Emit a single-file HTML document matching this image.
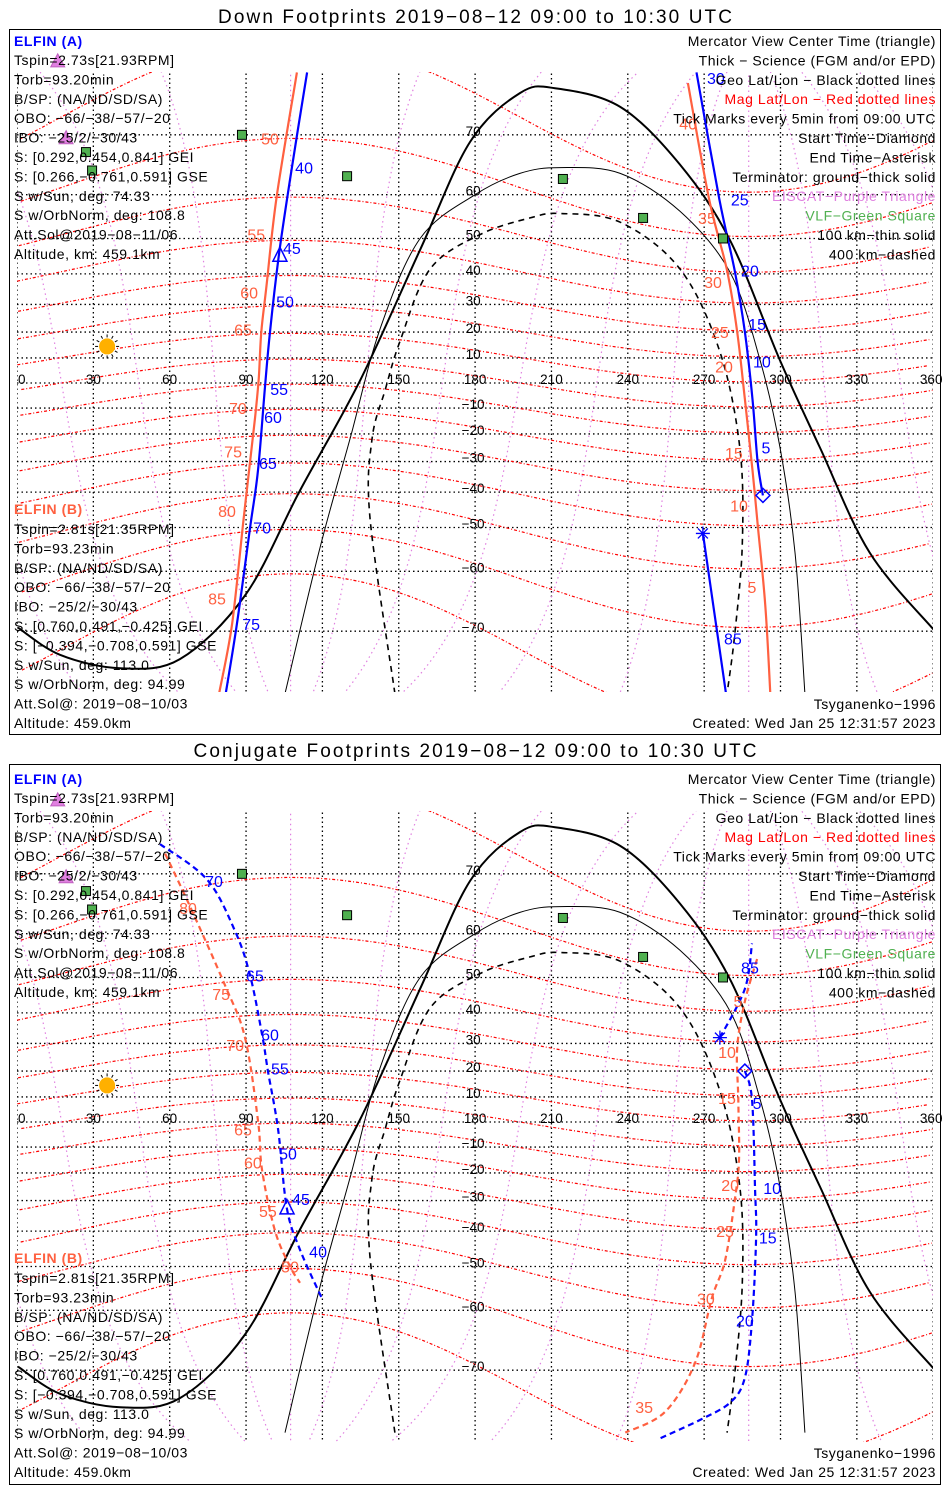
<!DOCTYPE html>
<html><head><meta charset="utf-8"><style>
html,body{margin:0;padding:0;background:#fff;}
svg{display:block;font-family:"Liberation Sans",sans-serif;}
.t{font-size:14px;letter-spacing:0.55px;}
.tk{font-size:16px;}
.ax{font-size:13.5px;}
</style></head><body>
<svg id="chart" width="950" height="1500" viewBox="0 0 950 1500" xmlns="http://www.w3.org/2000/svg">
<defs>
<clipPath id="clipTop"><rect x="17" y="72" width="916" height="620"/></clipPath>
<clipPath id="clipBot"><rect x="17" y="811" width="916" height="631"/></clipPath>
</defs>
<rect x="9.5" y="29.5" width="931" height="705" fill="none" stroke="#000"/>
<rect x="9.5" y="764.5" width="931" height="720" fill="none" stroke="#000"/>
<text x="475" y="23" font-size="19" text-anchor="middle" textLength="514">Down Footprints 2019−08−12 09:00 to 10:30 UTC</text>
<text x="475" y="757" font-size="19" text-anchor="middle" textLength="563">Conjugate Footprints 2019−08−12 09:00 to 10:30 UTC</text>
<g id="panels"></g>
</svg>
<script>
// ---------- data ----------
const lonTicks=[0,30,60,90,120,150,180,210,240,270,300,330,360];
const latTicks=[70,60,50,40,30,20,10,0,-10,-20,-30,-40,-50,-60,-70];
const magLats=[-70,-60,-50,-40,-30,-20,-10,0,10,20,30,40,50,60,70];
const magLons=[0,30,60,90,120,150,180,210,240,270,300,330];
const vlfLon=[88.4,27.1,29.5,129.7,214.5,246,277.4];
const vlfLat=[70,67.5,64.5,63.5,63,55,50];
const eiscatLon=[19.3,16];
const eiscatLat=[69.6,78];
const sunLon=35.4, sunLat=14.5;
// terminator (ground, thick)
const termLon=[0.4,16.9,40.5,64,89.6,111.2,134.8,158.4,178,197.6,211.4,237,260.5,280.2,299.8,315.5,335,360.7];
const termLat=[-69.5,-73,-74.5,-73.5,-64.5,-39.5,1,47,69,75,75.5,73.5,65.5,49.5,9,-25,-56,-70];
// 100 km (thin)
const t100Lon=[105.3,119,130.8,142.6,158.4,180,197.6,213.4,237,260.5,280.2,292,299.8,305.7,309.6];
const t100Lat=[-77,-55,-22,21,50,60,64,65,64,56.5,40.5,9,-25,-56,-77];
// 400 km (dashed)
const t400Lon=[148.5,138.7,139.5,144.6,150.5,162.3,182,201.6,213.4,237,260.5,276,284,285,282,279];
const t400Lat=[-77,-47.5,-22,-3,16.5,41.5,51,55,56,54,41.5,13,-25,-54,-70.5,-77];
// Down footprints tracks
const downA1Lon=[114,108,103,99.4,97.4,94.7,91.6,86.4,82];
const downA1Lat=[77,65,46,20,-2,-33,-50,-69,-77];
const downA2Lon=[267,276,282,286,289,291,293.1];
const downA2Lat=[77,59,41,20,-6.5,-30,-41];
const downA3Lon=[269.5,278.6];
const downA3Lat=[-51.5,-77];
const downB1Lon=[110,102,98,96,95,93.5,89,84.5,79.4];
const downB1Lat=[77,59.5,36,20,2,-14,-48,-69,-77];
const downB2Lon=[263.6,272,279,283,286,289,291,294,296];
const downB2Lat=[76,59,41,20,-6.5,-33,-49,-66,-77];
const downALabels=["30","25","20","15","10","5","40","45","50","55","60","65","70","75","85"];
const downALabLon=[274.6,284,288,290.8,292.7,294.3,112.8,108,105.3,103,100.6,98.6,96.3,92,281.3];
const downALabLat=[76.5,59,41,23,8.5,-25,65,47.5,31,-2.5,-13.5,-30.5,-50,-69,-71];
const downBLabels=["40","35","30","25","20","15","10","5","50","55","60","65","70","75","80","85"];
const downBLabLon=[263.7,271.1,273.5,276.2,277.8,281.7,283.7,288.8,99.4,94,91.2,88.8,86.8,84.9,82.5,78.6];
const downBLabLat=[71.5,55,37.5,20,6.5,-27,-44,-63,69.5,51,34,21,-10,-26.5,-45.5,-65];
const downTri=[103.3,45.5], downDia=[293.1,-41], downAst=[269.5,-51.5];
// Conjugate tracks
const conjA1Lon=[56.2,74.7,85.7,91.6,96.3,98.6,102.6,106,111.2,119.8];
const conjA1Lat=[73.7,69.2,60.5,50.5,33,20,-3,-32.5,-45.5,-57.5];
const conjA2Lon=[276.2,286,288.8];
const conjA2Lat=[32,47,58];
const conjA3Lon=[286,288.8,290,290.4,288.8,286,280.2,268.4,252.7];
const conjA3Lat=[20,9,-25.5,-42,-62,-71,-74,-75.8,-77.5];
const conjB1Lon=[58.2,68,81.7,89.6,94.7,96.3,101.4,107.3,111.2];
const conjB1Lat=[72.6,65,48,32,0.5,-19,-40,-50,-54];
const conjB2Lon=[290.8,286,283,283.4,283.7,282,278.2,273,266.4,254.6,239];
const conjB2Lat=[54.5,43.5,28.5,9,-15,-30,-48.5,-57.5,-69,-75,-77];
const conjALabels=["70","65","60","55","50","45","40","85","5","10","15","20"];
const conjALabLon=[77.4,93.5,99.4,103.3,106.5,111.6,118.3,288,290.8,296.7,295,286];
const conjALabLat=[69,50.5,33,21,-12.5,-29.5,-46,52.5,7.5,-25.5,-42,-62];
const conjBLabels=["80","75","70","65","60","55","50","5","10","15","20","25","30","35"];
const conjBLabLon=[67.2,80.2,85.7,88.8,92.7,98.6,107.3,283.3,279,279,280.2,278.2,270.7,246.4];
const conjBLabLat=[64.8,45.5,29.5,-3,-16,-33.5,-50,43.5,27,9.5,-24.5,-40,-57.5,-74.5];
const conjTri=[106.1,-32.5], conjDia=[286,20], conjAst=[276.2,32];

const legA=["Tspin=2.73s[21.93RPM]","Torb=93.20min","B/SP: (NA/ND/SD/SA)","OBO: −66/−38/−57/−20","IBO: −25/2/−30/43","S: [0.292,0.454,0.841] GEI","S: [0.266,−0.761,0.591] GSE","S w/Sun, deg: 74.33","S w/OrbNorm, deg: 108.8","Att.Sol@2019−08−11/06","Altitude, km: 459.1km"];
const legB=["Tspin=2.81s[21.35RPM]","Torb=93.23min","B/SP: (NA/ND/SD/SA)","OBO: −66/−38/−57/−20","IBO: −25/2/−30/43","S: [0.760,0.491,−0.425] GEI","S: [−0.394,−0.708,0.591] GSE","S w/Sun, deg: 113.0","S w/OrbNorm, deg: 94.99","Att.Sol@: 2019−08−10/03","Altitude: 459.0km"];
const legR=["Mercator View Center Time (triangle)","Thick − Science (FGM and/or EPD)","Geo Lat/Lon − Black dotted lines","Mag Lat/Lon − Red dotted lines","Tick Marks every 5min from 09:00 UTC","Start Time−Diamond","End Time−Asterisk","Terminator: ground−thick solid","EISCAT−Purple Triangle","VLF−Green Square","100 km−thin solid","400 km−dashed"];
const legRColors=["#000","#000","#000","#ff0000","#000","#000","#000","#000","#e080e0","#50b050","#000","#000"];

// ---------- drawing ----------
const NS="http://www.w3.org/2000/svg";
const BLUE="#0000ff", ORANGE="#ff6040";
const root=document.getElementById("panels");
function mk(tag,attrs,parent){const e=document.createElementNS(NS,tag);for(const k in attrs)e.setAttribute(k,attrs[k]);(parent||root).appendChild(e);return e;}
function X(lon){return 17+lon*2.545;}
function mercY(lat,off){const r=Math.max(-85,Math.min(85,lat))*Math.PI/180;return off+383-143*Math.log(Math.tan(Math.PI/4+r/2));}
function pathFrom(lons,lats,off){let d="";for(let i=0;i<lons.length;i++){d+=(i?"L":"M")+X(lons[i]).toFixed(1)+","+mercY(lats[i],off).toFixed(1);}return d;}
function smoothFrom(lons,lats,off){const P=lons.map((l,i)=>[X(l),mercY(lats[i],off)]);let d="M"+P[0][0].toFixed(1)+","+P[0][1].toFixed(1);
 for(let i=0;i<P.length-1;i++){const p0=P[Math.max(0,i-1)],p1=P[i],p2=P[i+1],p3=P[Math.min(P.length-1,i+2)];
  const c1=[p1[0]+(p2[0]-p0[0])/6,p1[1]+(p2[1]-p0[1])/6],c2=[p2[0]-(p3[0]-p1[0])/6,p2[1]-(p3[1]-p1[1])/6];
  d+="C"+c1[0].toFixed(1)+","+c1[1].toFixed(1)+" "+c2[0].toFixed(1)+","+c2[1].toFixed(1)+" "+p2[0].toFixed(1)+","+p2[1].toFixed(1);}
 return d;}
function magToGeo(phi,lam){const d=Math.PI/180,th=9.5*d,lp=287.5*d;const x=Math.cos(phi*d)*Math.cos(lam*d),y=Math.cos(phi*d)*Math.sin(lam*d),z=Math.sin(phi*d);
 const x1=x*Math.cos(th)+z*Math.sin(th),z1=-x*Math.sin(th)+z*Math.cos(th);const Xg=x1*Math.cos(lp)-y*Math.sin(lp),Yg=x1*Math.sin(lp)+y*Math.cos(lp);
 let lon=Math.atan2(Yg,Xg)/d;if(lon<0)lon+=360;return [lon,Math.asin(Math.max(-1,Math.min(1,z1)))/d];}
function magPath(pts,off){let d="",prev=null;for(const p of pts){const x=X(p[0]),y=mercY(p[1],off);if(prev===null||Math.abs(p[0]-prev)>180)d+="M";else d+="L";d+=x.toFixed(1)+","+y.toFixed(1);prev=p[0];}return d;}

function panel(off,txtTop,txtBot,clip,dashed,tracksA,tracksB,labA,labB,tri,dia,ast,name){
 const g=mk("g",{});
 
 
 const m=mk("g",{"clip-path":"url(#"+clip+")"},g);
 
 
 for(const lo of lonTicks){const l=mk("line",{x1:X(lo),x2:X(lo),y1:off+60,y2:off+320+383,stroke:"#000","stroke-width":1.3,"stroke-dasharray":"1.5,3"},m);
  
  }
 for(const la of latTicks){const y=mercY(la,off);const l=mk("line",{x1:17,x2:933,y1:y,y2:y,stroke:"#000","stroke-width":1.3,"stroke-dasharray":"1.5,3"},m);
  
  }
 for(const ml of magLats){const pts=[];for(let a=0;a<=360;a+=2)pts.push(magToGeo(ml,a));
  const p=mk("path",{d:magPath(pts,off),fill:"none",stroke:"#ff0000","stroke-width":1.2,"stroke-dasharray":"3,2,1,2"},m);
  
  }
 for(const ml of magLons){const pts=[];for(let a=-88;a<=88;a+=1)pts.push(magToGeo(a,ml));
  const p=mk("path",{d:magPath(pts,off),fill:"none",stroke:"#e080e0","stroke-width":1.2,"stroke-dasharray":"1.5,3.5"},m);
  
  }
 let p=mk("path",{d:smoothFrom(termLon,termLat,off),fill:"none",stroke:"#000","stroke-width":2},m);
 
 
 p=mk("path",{d:smoothFrom(t100Lon,t100Lat,off),fill:"none",stroke:"#000","stroke-width":1},m);
 
 
 p=mk("path",{d:smoothFrom(t400Lon,t400Lat,off),fill:"none",stroke:"#000","stroke-width":1.6,"stroke-dasharray":"6,5"},m);
 
 
 const da=dashed?"6,4":"none";
 for(const t of tracksB){const q=mk("path",{d:smoothFrom(t[0],t[1],off),fill:"none",stroke:ORANGE,"stroke-width":2.2,"stroke-dasharray":da},m);
  
  }
 for(const t of tracksA){const q=mk("path",{d:smoothFrom(t[0],t[1],off),fill:"none",stroke:BLUE,"stroke-width":2.2,"stroke-dasharray":da},m);
  
  }
 for(const lo of lonTicks){const t=mk("text",{x:lo===0?X(lo)+1:(lo===360?X(lo)-2:X(lo)),y:off+384,"text-anchor":lo===0?"start":"middle",class:"ax"},g);t.textContent=lo;
  
  }
 for(const la of latTicks){if(la===0)continue;const t=mk("text",{x:X(180)-2,y:mercY(la,off)+1,"text-anchor":"middle",class:"ax"},g);t.textContent=la>0?la:"−"+(-la);
  
  }
 for(let i=0;i<vlfLon.length;i++){const r=mk("rect",{x:X(vlfLon[i])-4.5,y:mercY(vlfLat[i],off)-4.5,width:9,height:9,fill:"#50b050",stroke:"#000","stroke-width":1},g);
  
  }
 for(let i=0;i<eiscatLon.length;i++){const x=X(eiscatLon[i]),y=mercY(eiscatLat[i],off);const r=mk("polygon",{points:`${x-7},${y+6} ${x+7},${y+6} ${x},${y-7}`,fill:"#e080e0",stroke:"#c060c0"},g);
  
  }
 const sx=X(sunLon),sy=mercY(sunLat,off);
 const sg=mk("g",{},g);
 
 
 for(let a=0;a<360;a+=30){const r=a*Math.PI/180;mk("line",{x1:sx+9*Math.cos(r),y1:sy+9*Math.sin(r),x2:sx+12*Math.cos(r),y2:sy+12*Math.sin(r),stroke:"#000","stroke-width":1},sg);}
 mk("circle",{cx:sx,cy:sy,r:8,fill:"#ffb000"},sg);
 for(let i=0;i<labB[0].length;i++){const t=mk("text",{x:X(labB[1][i]),y:mercY(labB[2][i],off)+6,"text-anchor":"middle",class:"tk",fill:ORANGE},g);t.textContent=labB[0][i];
  
  }
 for(let i=0;i<labA[0].length;i++){const t=mk("text",{x:X(labA[1][i]),y:mercY(labA[2][i],off)+6,"text-anchor":"middle",class:"tk",fill:BLUE},g);t.textContent=labA[0][i];
  
  }
 let x=X(tri[0]),y=mercY(tri[1],off);
 let mm=mk("polygon",{points:`${x-7},${y+6} ${x+7},${y+6} ${x},${y-8}`,fill:"none",stroke:BLUE,"stroke-width":1.5},g);
 
 
 x=X(dia[0]);y=mercY(dia[1],off);
 mm=mk("polygon",{points:`${x},${y-7} ${x+7},${y} ${x},${y+7} ${x-7},${y}`,fill:"none",stroke:BLUE,"stroke-width":1.5},g);
 
 
 x=X(ast[0]);y=mercY(ast[1],off);
 mm=mk("path",{d:`M${x-7},${y}H${x+7}M${x},${y-7}V${y+7}M${x-5},${y-5}L${x+5},${y+5}M${x-5},${y+5}L${x+5},${y-5}`,stroke:BLUE,"stroke-width":1.3},g);
 
 
 let t=mk("text",{x:14,y:txtTop+46,class:"t",fill:BLUE,"font-weight":"bold"},g);t.textContent="ELFIN (A)";
 
 
 legA.forEach((s,i)=>{const e=mk("text",{x:14,y:txtTop+65+i*19.4,class:"t"},g);e.textContent=s;
  
  });
 legR.forEach((s,i)=>{const e=mk("text",{x:936,y:txtTop+46+i*19.4,class:"t","text-anchor":"end",fill:legRColors[i]},g);e.textContent=s;
  
  });
 t=mk("text",{x:14,y:txtBot+514,class:"t",fill:ORANGE,"font-weight":"bold"},g);t.textContent="ELFIN (B)";
 
 
 legB.forEach((s,i)=>{const e=mk("text",{x:14,y:txtBot+534+i*19.4,class:"t"},g);e.textContent=s;
  
  });
 t=mk("text",{x:936,y:txtBot+709,class:"t","text-anchor":"end"},g);t.textContent="Tsyganenko−1996";
 
 
 t=mk("text",{x:936,y:txtBot+728,class:"t","text-anchor":"end"},g);t.textContent="Created: Wed Jan 25 12:31:57 2023";
 
 
}
panel(0,0,0,"clipTop",false,[[downA1Lon,downA1Lat],[downA2Lon,downA2Lat],[downA3Lon,downA3Lat]],[[downB1Lon,downB1Lat],[downB2Lon,downB2Lat]],
 [downALabels,downALabLon,downALabLat],[downBLabels,downBLabLon,downBLabLat],downTri,downDia,downAst,"down");
panel(739,738,749,"clipBot",true,[[conjA1Lon,conjA1Lat],[conjA2Lon,conjA2Lat],[conjA3Lon,conjA3Lat]],[[conjB1Lon,conjB1Lat],[conjB2Lon,conjB2Lat]],
 [conjALabels,conjALabLon,conjALabLat],[conjBLabels,conjBLabLon,conjBLabLat],conjTri,conjDia,conjAst,"conjugate");
</script>
</body></html>
